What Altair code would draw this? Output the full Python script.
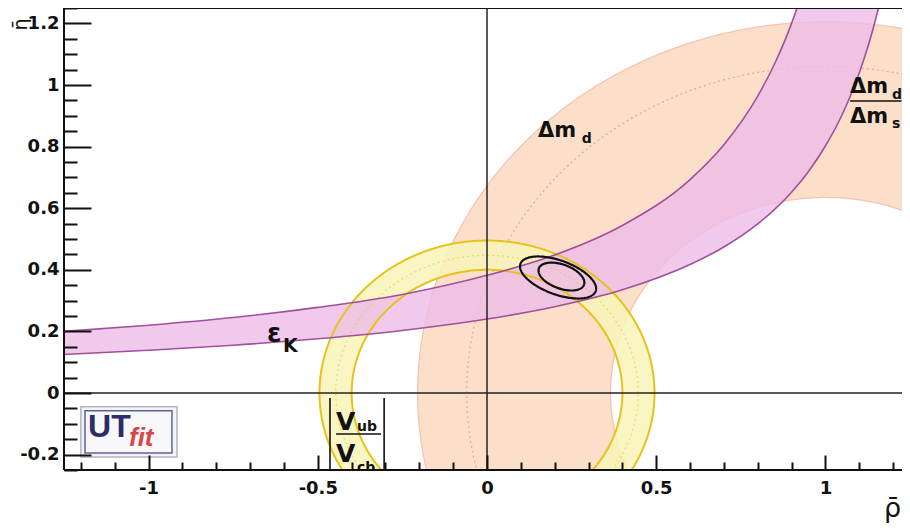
import numpy as np
import pandas as pd
import altair as alt

# ---------------- values ----------------
W, H = 838, 462
X_DOMAIN = [-1.25, -1.25 + W / 338.4]   # picture is cut just past rho = 1.2
Y_DOMAIN = [-0.25, 1.25]
X_MAJOR = [-1, -0.5, 0, 0.5, 1]
Y_MAJOR = [-0.2, 0, 0.2, 0.4, 0.6, 0.8, 1, 1.2]
X_ALL_TICKS = [round(-1.2 + 0.1 * i, 2) for i in range(25)]
Y_ALL_TICKS = [round(-0.25 + 0.05 * i, 2) for i in range(31)]

# circular constraints centred on the rho axis: name, centre, inner / outer radius
RING_NAME = ["dmd", "dmd_dms", "vub"]
RING_CX = [1.0, 1.0, 0.0]
RING_RIN = [0.90, 0.635, 0.400]
RING_ROUT = [1.205, 0.93, 0.495]
# visible outline radii and central (dotted) radii
PEACH_EDGE_CX = [1.0, 1.0]
PEACH_EDGE_R = [1.205, 0.635]
DMD_CENTRAL_R = 1.06
VUB_EDGE_R = [0.400, 0.495]
VUB_CENTRAL_R = 0.447

# epsilon_K band: lower and upper edges
EPSK_X = [-1.25, -1.0, -0.75, -0.5, -0.25, 0.0, 0.2, 0.4, 0.6, 0.7, 0.8, 0.85,
          0.9, 0.95, 1.0, 1.05, 1.1, 1.15, 1.2, 1.25]
EPSK_LO = [0.125, 0.139, 0.155, 0.176, 0.203, 0.240, 0.280, 0.335, 0.417, 0.474,
           0.549, 0.596, 0.652, 0.719, 0.802, 0.905, 1.039, 1.220, 1.475, 1.86]
EPSK_HI = [0.200, 0.220, 0.245, 0.278, 0.320, 0.382, 0.448, 0.544, 0.693, 0.806,
           0.964, 1.069, 1.200, 1.369, 1.593, 1.905, 2.372, 3.143, 4.66, 9.05]

# fit contours (ellipses): centre, semi-major vector, semi-minor vector
CONT_NAME = ["95%", "68%"]
CONT_CX = [0.21, 0.22]
CONT_CY = [0.375, 0.378]
CONT_MAJ = [(0.1111, -0.0444), (0.0667, -0.0266)]
CONT_MIN = [(0.0172, 0.0519), (0.0121, 0.0366)]

# ---------------- styling ----------------
FONT = "DejaVu Sans"
PEACH = "#fcdfc9"
PEACH_LINE = "#f3c4b4"
PEACH_DOT = "#eca994"
YELLOW = "#f8f5b8"
YELLOW_LINE = "#e6c31c"
PINK = "#eebbe8"
PURPLE_LINE = "#a0509c"

XS = alt.Scale(domain=X_DOMAIN, nice=False, zero=False)
YS = alt.Scale(domain=Y_DOMAIN, nice=False, zero=False)


def X(f, axis=None):
    return alt.X(f, type="quantitative", scale=XS, axis=axis)


def Y(f, axis=None):
    return alt.Y(f, type="quantitative", scale=YS, axis=axis)


def XD(v):
    return alt.XDatum(v, type="quantitative", scale=XS, axis=None)


def YD(v):
    return alt.YDatum(v, type="quantitative", scale=YS, axis=None)


# ---------------- geometry tables ----------------
rows = []
th = np.linspace(0, np.pi, 361)
for name, cx, rin, rout in zip(RING_NAME, RING_CX, RING_RIN, RING_ROUT):
    xs = np.unique(np.round(np.concatenate([cx + rout * np.cos(th), cx + rin * np.cos(th)]), 7))
    d = xs - cx
    yo = np.sqrt(np.clip(rout ** 2 - d ** 2, 0, None))
    yi = np.sqrt(np.clip(rin ** 2 - d ** 2, 0, None))
    for half, lo, hi in (("up", yi, yo), ("down", -yo, -yi)):
        for a, b, c in zip(xs, lo, hi):
            rows.append({"ring": name, "part": f"{name}_{half}", "x": a, "y": b, "y2": c})
ring_df = pd.DataFrame(rows)


def circle_df(cxs, rs, tag):
    t = np.linspace(0, 2 * np.pi, 721)
    out = []
    for k, (cx, r) in enumerate(zip(cxs, rs)):
        for i, tt in enumerate(t):
            out.append({"edge": f"{tag}{k}", "i": i, "x": cx + r * np.cos(tt), "y": r * np.sin(tt)})
    return pd.DataFrame(out)


peach_edges = circle_df(PEACH_EDGE_CX, PEACH_EDGE_R, "p")
dmd_central = circle_df([1.0], [DMD_CENTRAL_R], "c")
vub_edges = circle_df([0.0, 0.0], VUB_EDGE_R, "v")
vub_central = circle_df([0.0], [VUB_CENTRAL_R], "vc")

epsk_df = pd.DataFrame({"x": EPSK_X, "lo": EPSK_LO, "hi": EPSK_HI})
epsk_lines = pd.concat([
    pd.DataFrame({"edge": "lo", "x": EPSK_X, "y": EPSK_LO}),
    pd.DataFrame({"edge": "hi", "x": EPSK_X, "y": EPSK_HI}),
])

crow = []
tt = np.linspace(0, 2 * np.pi, 181)
for n, cx, cy, mj, mn in zip(CONT_NAME, CONT_CX, CONT_CY, CONT_MAJ, CONT_MIN):
    for i, t in enumerate(tt):
        crow.append({"c": n, "i": i,
                     "x": cx + mj[0] * np.cos(t) + mn[0] * np.sin(t),
                     "y": cy + mj[1] * np.cos(t) + mn[1] * np.sin(t)})
cont_df = pd.DataFrame(crow)

# ---------------- axes ----------------
num_expr = "datum.value < 0 ? '-' + format(abs(datum.value), '~g') : format(datum.value, '~g')"
axis_x_labels = alt.Axis(values=X_MAJOR, ticks=False, domain=False, grid=False, labelExpr=num_expr,
                         labelFont=FONT, labelFontSize=18, labelFontWeight="bold", labelColor="#111",
                         labelPadding=9, title="ρ̄", titleFont=FONT, titleFontSize=27,
                         titleFontWeight="normal", titleColor="#111", titleX=828, titleY=46,
                         titleAlign="center", titleBaseline="alphabetic", titleAnchor="end")
axis_y_labels = alt.Axis(values=Y_MAJOR, ticks=False, domain=False, grid=False, labelExpr=num_expr,
                         labelFont=FONT, labelFontSize=18, labelFontWeight="bold", labelColor="#111",
                         labelPadding=5, title="η̄", titleFont=FONT, titleFontSize=19,
                         titleFontWeight="normal", titleColor="#111", titleAngle=270, titleX=-38,
                         titleY=16, titleAlign="center", titleBaseline="alphabetic")
axis_x_ticks = alt.Axis(orient="top", offset=-H, values=X_ALL_TICKS, labels=False, domain=False,
                        grid=False, tickColor="#111", tickWidth=2, zindex=2,
                        tickSize={"condition": {"test": "abs(datum.value*2 - round(datum.value*2)) < 0.001",
                                                "value": 15}, "value": 8},
                        title=None)
axis_y_ticks = alt.Axis(orient="right", offset=-W, values=Y_ALL_TICKS, labels=False, domain=False,
                        grid=False, tickColor="#111", tickWidth=2, zindex=2,
                        tickSize={"condition": {"test": "abs(datum.value*5 - round(datum.value*5)) < 0.001",
                                                "value": 27}, "value": 13},
                        title=None)

# ---------------- layers ----------------
layers = []
peach = alt.Chart(ring_df).transform_filter("datum.ring != 'vub'").mark_area(
    clip=True, color=PEACH, opacity=1).encode(
    x=X("x", axis_x_labels), y=Y("y", axis_y_labels), y2="y2:Q", detail="part:N")
layers.append(peach)
layers.append(alt.Chart(peach_edges).mark_line(clip=True, color=PEACH_LINE, strokeWidth=1.3).encode(
    x=X("x"), y=Y("y"), detail="edge:N", order="i:Q"))
layers.append(alt.Chart(dmd_central).mark_line(clip=True, color=PEACH_DOT, strokeWidth=1.3,
                                               strokeDash=[2, 3]).encode(
    x=X("x"), y=Y("y"), detail="edge:N", order="i:Q"))
layers.append(alt.Chart(ring_df).transform_filter("datum.ring == 'vub'").mark_area(
    clip=True, color=YELLOW, opacity=0.85).encode(
    x=X("x"), y=Y("y"), y2="y2:Q", detail="part:N"))
layers.append(alt.Chart(epsk_df).mark_area(clip=True, color=PINK, opacity=0.8, interpolate="monotone").encode(
    x=X("x"), y=Y("lo"), y2="hi:Q"))
layers.append(alt.Chart(vub_central).mark_line(clip=True, color=YELLOW_LINE, strokeWidth=1.2,
                                               strokeDash=[2, 3], opacity=0.5).encode(
    x=X("x"), y=Y("y"), detail="edge:N", order="i:Q"))
layers.append(alt.Chart(vub_edges).mark_line(clip=True, color=YELLOW_LINE, strokeWidth=2).encode(
    x=X("x"), y=Y("y"), detail="edge:N", order="i:Q"))
layers.append(alt.Chart(epsk_lines).mark_line(clip=True, color=PURPLE_LINE, strokeWidth=1.6,
                                              interpolate="monotone").encode(
    x=X("x"), y=Y("y"), detail="edge:N"))
layers.append(alt.Chart(cont_df).mark_line(clip=True, color="#111", strokeWidth=2.2).encode(
    x=X("x", axis_x_ticks), y=Y("y", axis_y_ticks), detail="c:N", order="i:Q"))

# zero lines
one = pd.DataFrame({"v": [0]})
layers.append(alt.Chart(one).mark_rule(color="#222", strokeWidth=1.5).encode(y=YD(0)))
layers.append(alt.Chart(one).mark_rule(color="#222", strokeWidth=1.5).encode(x=XD(0)))
# frame: left, top, bottom (right side lies beyond the picture)
layers.append(alt.Chart(one).mark_rule(color="#111", strokeWidth=2).encode(x=XD(X_DOMAIN[0])))
layers.append(alt.Chart(one).mark_rule(color="#111", strokeWidth=2).encode(y=YD(Y_DOMAIN[1])))
layers.append(alt.Chart(one).mark_rule(color="#111", strokeWidth=2).encode(y=YD(Y_DOMAIN[0])))


def label(text, x, y, size, weight="bold", color="#111", font=FONT, style="normal", clip=False):
    return alt.Chart(pd.DataFrame({"t": [text]})).mark_text(
        align="left", baseline="alphabetic", font=font, fontSize=size, fontWeight=weight,
        fontStyle=style, color=color, clip=clip).encode(x=XD(x), y=YD(y), text="t:N")


def hline(x1, x2, y, w=1.6):
    return alt.Chart(one).mark_rule(color="#111", strokeWidth=w).encode(
        x=XD(x1), x2=alt.X2Datum(x2), y=YD(y))


def vline(x, y1, y2, w=1.6):
    return alt.Chart(one).mark_rule(color="#111", strokeWidth=w, clip=True).encode(
        x=XD(x), y=YD(y1), y2=alt.Y2Datum(y2))


# Delta m_d
layers += [label("Δm", 0.151, 0.831, 21), label("d", 0.280, 0.812, 14)]
# Delta m_d / Delta m_s
layers += [label("Δm", 1.073, 0.974, 21), label("d", 1.197, 0.955, 14),
           hline(1.073, 1.225, 0.948),
           label("Δm", 1.073, 0.877, 21), label("s", 1.197, 0.860, 14)]
# epsilon_K
layers += [label("ε", -0.650, 0.166, 26), label("K", -0.603, 0.133, 19)]
# |V_ub / V_cb|
layers += [vline(-0.464, -0.016, -0.25), vline(-0.304, -0.016, -0.25),
           label("V", -0.446, -0.120, 25), label("ub", -0.384, -0.123, 14),
           hline(-0.446, -0.313, -0.133),
           label("V", -0.446, -0.224, 25, clip=True), label("cb", -0.384, -0.258, 14, clip=True)]

# UTfit logo
layers.append(alt.Chart(one).mark_rect(fill="#f4f4f8", stroke="#b4b4c4", strokeWidth=1.5).encode(
    x=XD(-1.200), x2=alt.X2Datum(-0.916), y=YD(-0.045), y2=alt.Y2Datum(-0.208)))
layers.append(alt.Chart(one).mark_rect(fill="#f8f8fb", stroke="#5a6494", strokeWidth=1.5).encode(
    x=XD(-1.188), x2=alt.X2Datum(-0.931), y=YD(-0.058), y2=alt.Y2Datum(-0.195)))
layers.append(label("UT", -1.179, -0.143, 32, color="#2c2c66", font="Liberation Sans"))
layers.append(label("fit", -1.058, -0.172, 26, color="#d9454a", font="Liberation Sans", style="italic"))

chart = alt.layer(*layers).resolve_axis(x="independent", y="independent").properties(
    width=W, height=H,
    autosize=alt.AutoSizeParams(type="none"),
    padding={"left": 56, "top": 0, "right": 0, "bottom": 54},
).configure_view(stroke=None)

chart.save("out.html", embed_options={"renderer": "svg", "actions": False})
